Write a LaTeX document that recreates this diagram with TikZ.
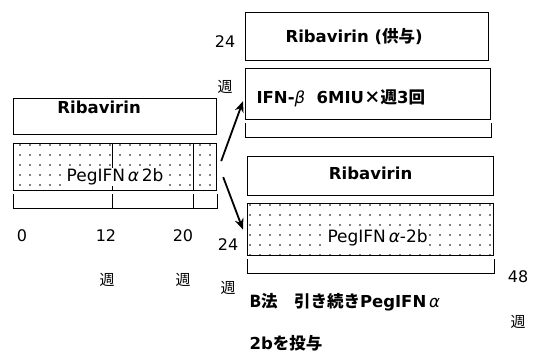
\documentclass[tikz,border=0pt]{standalone}
\usepackage{fontspec}
\setmainfont{DejaVu Sans}
\newfontfamily\jp{Noto Sans CJK JP}
\usetikzlibrary{patterns.meta,arrows.meta}

\tikzset{
  box/.style={draw, line width=1.2pt, inner sep=0pt, anchor=north west},
  dotbox/.style={box, pattern={Dots[distance=10pt, radius=0.8pt]}},
  lbl/.style={font=\fontsize{16.5}{18}\selectfont\bfseries},
  plbl/.style={font=\fontsize{17}{19}\selectfont},
  num/.style={font=\fontsize{16}{18}\selectfont},
  wk/.style={font=\jp\fontsize{15}{17}\selectfont},
  arr/.style={-{Stealth[length=11pt,width=9pt]}, line width=1.8pt},
  brk/.style={line width=1pt}
}

\begin{document}
\begin{tikzpicture}[x=1pt,y=-1pt]
 \useasboundingbox (0,0) rectangle (537,355);
 % left: first 24 weeks
 \node[box, minimum width=203pt, minimum height=36pt] (lrib) at (13,98) {};
 \node[dotbox, minimum width=203pt, minimum height=47pt] (lpeg) at (13,143) {};
 \foreach \d in {99,180}{
    \draw[line width=0.9pt] ([xshift=\d pt]lpeg.north west) -- ([xshift=\d pt]lpeg.south west);
 }
 \draw[brk] ([yshift=-3pt]lpeg.south west) -- ++(0,14) -| ([yshift=-3pt]lpeg.south east);
 \foreach \d in {99,180}{
    \draw[brk] ([xshift=\d pt,yshift=-3pt]lpeg.south west) -- ++(0,14);
 }
 \node[lbl] (lribtxt) at ([xshift=-16pt,yshift=-9pt]lrib.north) {Ribavirin};
 \node[plbl, fill=white, inner sep=1pt] (lpegtxt) at ([yshift=-10pt]lpeg.center) {PegIFN\,{\itshape α}\,2b};

 % right: continued
 \node[box, minimum width=243pt, minimum height=48pt] (rrib1) at (245,12) {};
 \node[box, minimum width=245pt, minimum height=51pt] (ifn) at (245,68) {};
 \draw[brk] ([yshift=-3pt]ifn.south west) -- ++(0,14) -| ([yshift=-3pt]ifn.south east);
 \node[box, minimum width=246pt, minimum height=39pt] (rrib2) at (247,156) {};
 \node[dotbox, minimum width=246pt, minimum height=52pt] (rpeg) at (247,203) {};
 \draw[brk] ([yshift=-3pt]rpeg.south west) -- ++(0,14) -| ([yshift=-3pt]rpeg.south east);

 \node[lbl] (r1txt) at ([xshift=-13pt]rrib1.center) {Ribavirin ({\jp 供与})};
 \node[lbl, anchor=west] (ifntxt) at ([xshift=8pt,yshift=-4pt]ifn.west) {IFN-{\mdseries\itshape β}\ \ 6MIU{\jp ×週}3{\jp 回}};
 \node[lbl] (r2txt) at ([yshift=3pt]rrib2.center) {Ribavirin};
 \node[plbl, fill=white, inner sep=1pt] (rpegtxt) at ([xshift=7pt,yshift=-8pt]rpeg.center) {PegIFN\,{\itshape α}-2b};

 % arrows
 \coordinate (uptail) at ([xshift=4pt,yshift=6pt]lpeg.east);
 \coordinate (uphead) at ([xshift=-2pt,yshift=19pt]ifn.south west);
 \coordinate (dntail) at ([xshift=6pt,yshift=-10pt]lpeg.east);
 \coordinate (dnhead) at ([xshift=-4pt]rpeg.west);
 \draw[arr] (uptail) -- (uphead);
 \draw[arr] (dntail) -- (dnhead);

 % weeks
 \node[num] (n0) at (22,236) {0};
 \node[num] (n12) at (106,236) {12};
 \node[wk] (w12) at (107,280) {週};
 \node[num] (n20) at (183,236) {20};
 \node[wk] (w20) at (183,280) {週};
 \node[num] (n24) at (228,245) {24};
 \node[wk] (w24) at (228,288) {週};
 \node[num] (t24) at (225,42) {24};
 \node[wk] (tw24) at (225,87) {週};
 \node[num] (n48) at (518,277) {48};
 \node[wk] (w48) at (518,322) {週};

 \node[lbl, anchor=west] (bnote1) at (246,302) {{\jp B法　引き続き}PegIFN\,{\mdseries\itshape α}};
 \node[lbl, anchor=west] (bnote2) at (246,343) {2b{\jp を投与}};
\end{tikzpicture}
\end{document}
